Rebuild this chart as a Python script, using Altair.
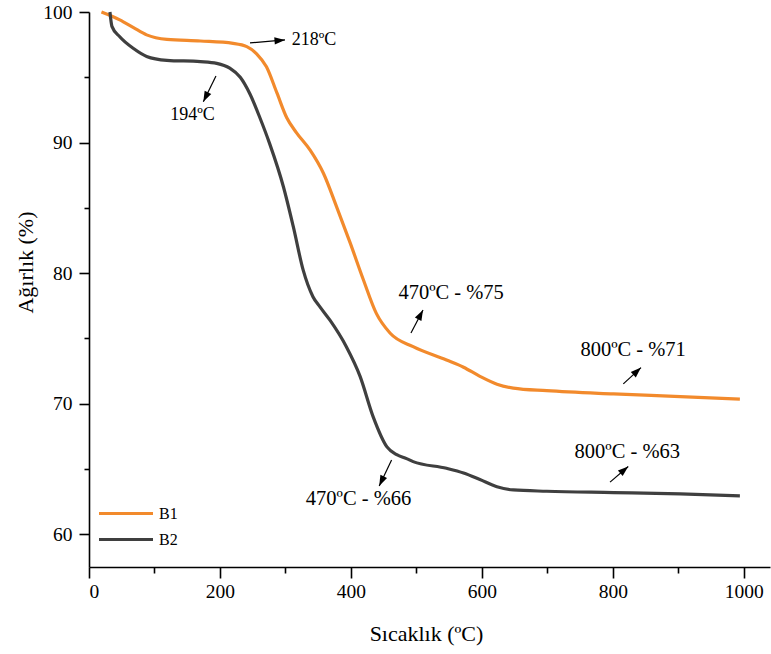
import math
import altair as alt
import pandas as pd

# ---------------- data ----------------
b1_temp = [19, 47, 68, 88, 119, 170, 220, 241, 256, 271, 287, 302, 317, 338, 358, 378,
           399, 419, 439, 460, 495, 546, 572, 597, 623, 648, 699, 801, 903, 994]
b1_wt = [100.0, 99.4, 98.8, 98.25, 97.9, 97.78, 97.6, 97.35, 96.8, 95.8, 93.8, 91.9, 90.75,
         89.4, 87.65, 85.1, 82.3, 79.5, 76.9, 75.4, 74.37, 73.35, 72.8, 72.1, 71.5,
         71.2, 71.0, 70.75, 70.55, 70.35]

b2_temp = [32, 35, 47, 68, 88, 119, 170, 195, 215, 231, 246, 261, 276, 297, 312, 327,
           342, 353, 368, 393, 414, 434, 455, 470, 485, 495, 546, 572, 597, 623, 648,
           699, 801, 903, 994]
b2_wt = [100.0, 98.9, 98.1, 97.2, 96.6, 96.3, 96.2, 96.07, 95.7, 95.0, 93.7, 91.9, 89.9,
         86.6, 83.56, 80.25, 78.2, 77.4, 76.4, 74.37, 72.1, 69.0, 66.7, 66.1, 65.8,
         65.57, 65.06, 64.7, 64.2, 63.65, 63.4, 63.3, 63.2, 63.1, 62.95]

series_names = ["B1", "B2"]
series_colors = ["#F28A2C", "#3F3F3F"]

x_domain = [0, 1040]
y_domain = [57.5, 100]
x_ticks = [0, 100, 200, 300, 400, 500, 600, 700, 800, 900, 1000]
y_ticks = [60, 65, 70, 75, 80, 85, 90, 95, 100]

# annotations
ann_small_text = ["218ºC", "194ºC"]
ann_small_x = [343.6, 158.0]
ann_small_y = [97.86, 92.1]
ann_big_text = ["470ºC - %75", "800ºC - %71", "800ºC - %63", "470ºC - %66"]
ann_big_x = [553.0, 831.0, 822.0, 411.6]
ann_big_y = [78.45, 74.08, 66.3, 62.67]

arrow_x1 = [245.9, 193.9, 491.7, 816.0, 795.7, 462.1]
arrow_y1 = [97.63, 95.10, 75.42, 71.52, 64.00, 65.70]
arrow_x2 = [299.3, 174.6, 510.1, 843.0, 823.5, 443.2]
arrow_y2 = [97.86, 93.13, 77.18, 72.77, 65.20, 63.71]

# ---------------- layout ----------------
W, H = 681, 555
FONT = "Liberation Serif"

rows = []
for name, ts, ws in [("B1", b1_temp, b1_wt), ("B2", b2_temp, b2_wt)]:
    for i, (t, w) in enumerate(zip(ts, ws)):
        rows.append({"T": t, "W": w, "S": name, "o": i})
df = pd.DataFrame(rows)

sx = W / (x_domain[1] - x_domain[0])
sy = H / (y_domain[1] - y_domain[0])
arrows = []
for a, b, c, d in zip(arrow_x1, arrow_y1, arrow_x2, arrow_y2):
    dx = (c - a) * sx
    dy = -(d - b) * sy
    ang = math.degrees(math.atan2(dx, -dy)) % 360
    arrows.append({"x1": a, "y1": b, "x2": c, "y2": d, "ang": ang})
adf = pd.DataFrame(arrows)

small_df = pd.DataFrame({"t": ann_small_text, "x": ann_small_x, "y": ann_small_y})
big_df = pd.DataFrame({"t": ann_big_text, "x": ann_big_x, "y": ann_big_y})

xs = alt.Scale(domain=x_domain, nice=False, zero=False)
ys = alt.Scale(domain=y_domain, nice=False, zero=False)

x_axis = alt.Axis(
    values=x_ticks, title="Sıcaklık (ºC)",
    tickSize={"condition": {"test": "datum.value % 200 === 0", "value": 11}, "value": 6},
    labelExpr="datum.value % 200 === 0 ? datum.label : ''",
    labelPadding=4, titleX=337, titleY=66, titleBaseline="middle", titleAlign="center",
    format="d", grid=False)
y_axis = alt.Axis(
    values=y_ticks, title="Ağırlık (%)",
    tickSize={"condition": {"test": "datum.value % 10 === 0", "value": 10}, "value": 5},
    labelExpr="datum.value % 10 === 0 ? datum.label : ''",
    labelPadding=7, titleX=-64, titleY=250, titleAngle=270, titleBaseline="middle",
    titleAlign="center", format="d", grid=False)

lines = alt.Chart(df).mark_line(strokeWidth=3.2, interpolate="monotone").encode(
    x=alt.X("T:Q", scale=xs, axis=x_axis),
    y=alt.Y("W:Q", scale=ys, axis=y_axis),
    order="o:Q",
    color=alt.Color("S:N", scale=alt.Scale(domain=series_names, range=series_colors),
                    legend=alt.Legend(title=None, orient="none", legendX=8, legendY=486,
                                      symbolType="M-1,0H3", symbolSize=729,
                                      symbolStrokeWidth=3.2, labelFont=FONT,
                                      labelFontSize=16, labelColor="black",
                                      labelOffset=31, rowPadding=2, padding=0,
                                      labelBaseline="middle")),
)

rules = alt.Chart(adf).mark_rule(color="black", strokeWidth=1.2).encode(
    x=alt.X("x1:Q", scale=xs), y=alt.Y("y1:Q", scale=ys),
    x2="x2:Q", y2="y2:Q",
)
heads = alt.Chart(adf).mark_point(shape="M0,0L0.7,2L-0.7,2Z", filled=True, size=110,
                                  color="black", opacity=1).encode(
    x=alt.X("x2:Q", scale=xs), y=alt.Y("y2:Q", scale=ys),
    angle=alt.Angle("ang:Q", scale=None),
)

small_txt = alt.Chart(small_df).mark_text(font=FONT, fontSize=18, color="black",
                                          baseline="middle", align="center").encode(
    x=alt.X("x:Q", scale=xs), y=alt.Y("y:Q", scale=ys), text="t:N")
big_txt = alt.Chart(big_df).mark_text(font=FONT, fontSize=20.5, color="black",
                                      baseline="middle", align="center").encode(
    x=alt.X("x:Q", scale=xs), y=alt.Y("y:Q", scale=ys), text="t:N")

chart = alt.layer(lines, rules, heads, small_txt, big_txt).properties(
    width=W, height=H,
    background="white",
    autosize=alt.AutoSizeParams(type="none"),
    padding={"left": 89, "top": 12, "right": 1, "bottom": 87},
).configure_view(stroke=None).configure_axis(
    grid=False, domainColor="black", domainWidth=1.6, tickColor="black", tickWidth=1.6,
    labelFont=FONT, labelFontSize=19.5, labelColor="black", titleFont=FONT,
    titleFontSize=22, titleColor="black", titleFontWeight="normal",
)

chart.save("out.html", embed_options={"renderer": "svg", "actions": False})
